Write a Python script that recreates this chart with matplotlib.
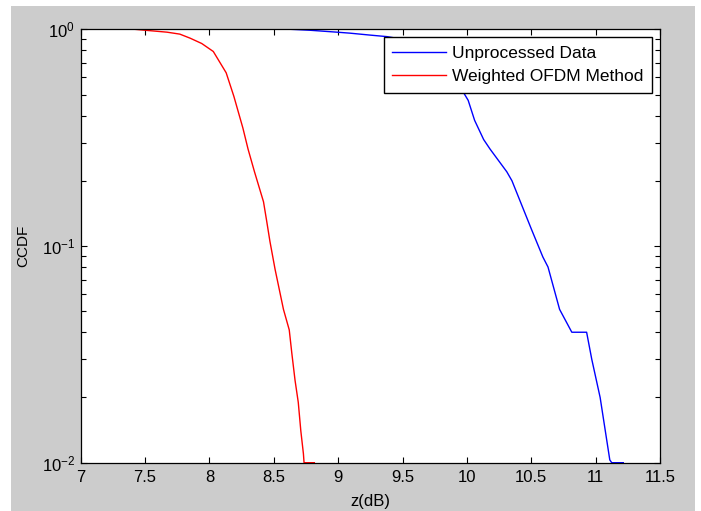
import matplotlib
matplotlib.use("Agg")
import matplotlib.pyplot as plt
from matplotlib.patches import Rectangle
from matplotlib.ticker import LogLocator, NullFormatter

# CCDF curves (z in dB)
z_unprocessed = [8.63, 8.78, 8.99, 9.09, 9.25, 9.38, 9.50, 9.65, 9.80, 9.90, 9.97,
                 10.01, 10.06, 10.13, 10.18, 10.31, 10.35, 10.50, 10.59, 10.63,
                 10.72, 10.815, 10.93, 10.97, 11.035, 11.11, 11.125, 11.215]
ccdf_unprocessed = [1.0, 0.99, 0.97, 0.96, 0.94, 0.925, 0.90, 0.84, 0.72, 0.60, 0.515,
                    0.47, 0.38, 0.31, 0.28, 0.22, 0.20, 0.12, 0.089, 0.08,
                    0.051, 0.04, 0.04, 0.03, 0.02, 0.0103, 0.01, 0.01]

z_weighted = [7.42, 7.50, 7.67, 7.77, 7.85, 7.94, 8.03, 8.13, 8.19, 8.26, 8.30,
              8.35, 8.42, 8.445, 8.47, 8.51, 8.575, 8.62, 8.64, 8.665, 8.69,
              8.71, 8.73, 8.735, 8.815]
ccdf_weighted = [1.0, 0.99, 0.97, 0.95, 0.91, 0.86, 0.79, 0.63, 0.49, 0.35, 0.28,
                 0.22, 0.16, 0.13, 0.105, 0.078, 0.051, 0.041, 0.032, 0.024, 0.019,
                 0.014, 0.011, 0.01, 0.01]

labels = ["Unprocessed Data", "Weighted OFDM Method"]
x_ticks = [7, 7.5, 8, 8.5, 9, 9.5, 10, 10.5, 11, 11.5]

plt.rcParams['font.family'] = ['Liberation Sans', 'DejaVu Sans']
plt.rcParams['mathtext.default'] = 'regular'

fig = plt.figure(figsize=(7.01, 5.11), dpi=100, facecolor='white')
# gray matlab-style figure panel
fig.patches.append(Rectangle((11 / 701, 0), 684 / 701, 505 / 511, transform=fig.transFigure,
                             facecolor='#cccccc', edgecolor='none', zorder=-1))

ax = fig.add_axes([80.7 / 701, 48.3 / 511, 579.3 / 701, 433.4 / 511])
ax.set_facecolor('white')

ax.plot(z_unprocessed, ccdf_unprocessed, color=(0, 0, 1), lw=1.0, label=labels[0])
ax.plot(z_weighted, ccdf_weighted, color=(1, 0, 0), lw=1.0, label=labels[1])

ax.set_yscale('log')
ax.set_xlim(7, 11.5)
ax.set_ylim(0.01, 1)
ax.set_xticks(x_ticks)
ax.set_xticklabels([f"{v:g}" for v in x_ticks])
ax.yaxis.set_major_locator(LogLocator(base=10))
ax.yaxis.set_minor_locator(LogLocator(base=10, subs=range(2, 10)))
ax.yaxis.set_minor_formatter(NullFormatter())

ax.tick_params(which='both', direction='in', top=True, right=True, color='black',
               labelsize=12, width=0.8)
ax.tick_params(which='major', length=4.5)
ax.tick_params(which='minor', length=3.5)
ax.tick_params(axis='x', pad=5)
ax.tick_params(axis='y', pad=4)
for s in ax.spines.values():
    s.set_color('black')
    s.set_linewidth(0.9)

ax.set_xlabel("z(dB)", fontsize=12, labelpad=7)
ax.set_ylabel("CCDF", fontsize=11, labelpad=8)

leg = ax.legend(loc='upper right', fontsize=12.5, frameon=True, fancybox=False,
                edgecolor='black', framealpha=1, handlelength=3.1, handletextpad=0.35,
                borderaxespad=0.45, labelspacing=0.45, borderpad=0.5)
leg.get_frame().set_linewidth(1.0)

fig.savefig("out.png", dpi=100, facecolor=fig.get_facecolor())
